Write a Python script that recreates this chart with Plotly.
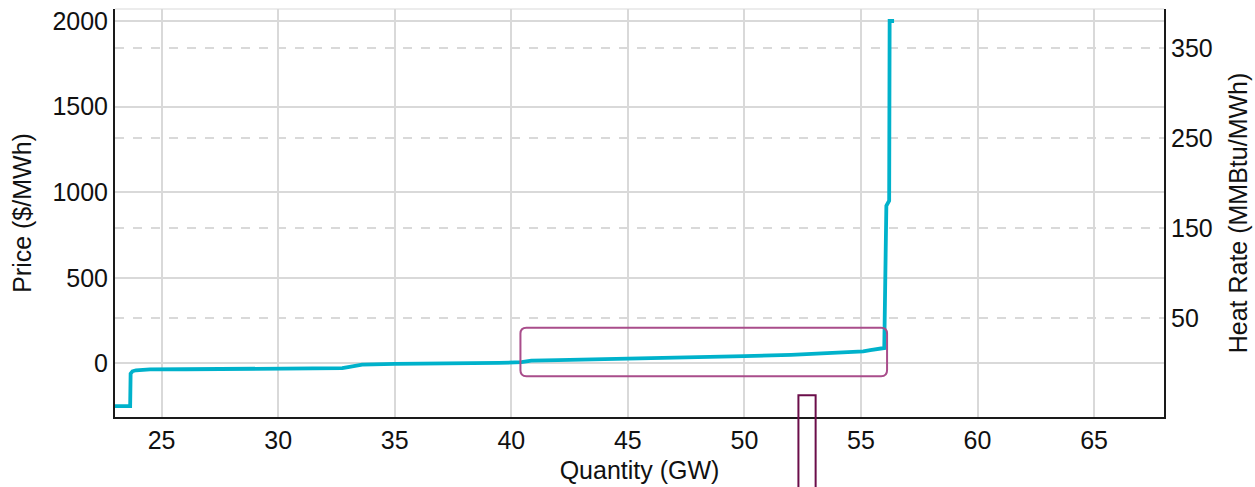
import plotly.graph_objects as go

# Supply curve data
quantity_gw = [23.0, 23.65, 23.67, 23.75, 23.9, 24.1, 24.5, 26.0, 28.0, 30.0, 32.0, 32.75,
               33.0, 33.6, 35.0, 37.0, 39.45, 40.44, 40.86, 42.0, 45.0, 48.0, 50.0, 52.0,
               53.27, 54.7, 55.1, 55.4, 55.7, 55.9, 56.0, 56.09, 56.21, 56.23, 56.42]
price_usd_mwh = [-250, -250, -60, -46, -40, -37, -35, -34, -33, -31, -30, -28,
                 -22, -7, -3, -2, 3, 7, 16, 19, 26, 34, 42, 50,
                 56, 64, 70, 78, 84, 87, 90, 921, 950, 2000, 2000]

x_ticks = [25, 30, 35, 40, 45, 50, 55, 60, 65]
price_ticks = [0, 500, 1000, 1500, 2000]
heat_rate_ticks = [50, 150, 250, 350]

x_range = [23.0, 68.0]
price_range = [-313, 2070]
gas_price = 5.267  # $/MMBtu linking the two axes
heat_rate_range = [price_range[0] / gas_price, price_range[1] / gas_price]

FONT = "Liberation Sans, Arial, sans-serif"
GRID = "#d9d9d9"
FS = 25

fig = go.Figure()
fig.add_trace(go.Scatter(
    x=quantity_gw, y=price_usd_mwh, mode="lines",
    line=dict(color="#00b2cb", width=3.8),
    showlegend=False, hoverinfo="x+y",
))
# empty trace so the secondary axis is laid out
fig.add_trace(go.Scatter(x=[quantity_gw[0]], y=[None], yaxis="y2",
                         mode="lines", showlegend=False, hoverinfo="skip"))

fig.update_layout(
    width=1255, height=487,
    margin=dict(l=115, r=87, t=7, b=69),
    paper_bgcolor="white", plot_bgcolor="white",
    font=dict(family=FONT, size=FS, color="#111111"),
    xaxis=dict(
        range=x_range, tickvals=x_ticks, showgrid=True, gridcolor=GRID, gridwidth=1.5,
        zeroline=False, showline=True, linecolor="#1a1a1a", linewidth=2,
        ticks="", title=dict(text="Quantity (GW)", standoff=8, font=dict(size=FS)),
        tickfont=dict(size=FS),
    ),
    yaxis=dict(
        range=price_range, tickvals=price_ticks, showgrid=True, gridcolor=GRID, gridwidth=1.5,
        zeroline=False, showline=True, linecolor="#1a1a1a", linewidth=2,
        ticks="", title=dict(text="Price ($/MWh)", standoff=14, font=dict(size=FS)),
        tickfont=dict(size=FS),
    ),
    yaxis2=dict(
        range=heat_rate_range, tickvals=heat_rate_ticks, overlaying="y", side="right",
        showgrid=True, gridcolor=GRID, gridwidth=1.5, griddash="dash",
        zeroline=False, showline=True, linecolor="#1a1a1a", linewidth=2,
        ticks="", title=dict(text="Heat Rate (MMBtu/MWh)", standoff=18, font=dict(size=FS)),
        tickfont=dict(size=FS),
    ),
)

# light top border
fig.add_shape(type="line", xref="paper", yref="paper", x0=0, x1=1, y0=1, y1=1,
              line=dict(color="#e6e6e6", width=1.5), layer="below")


def rounded_rect(x0, y0, x1, y1, rx, ry):
    return (f"M {x0+rx},{y0} L {x1-rx},{y0} Q {x1},{y0} {x1},{y0+ry} "
            f"L {x1},{y1-ry} Q {x1},{y1} {x1-rx},{y1} "
            f"L {x0+rx},{y1} Q {x0},{y1} {x0},{y1-ry} "
            f"L {x0},{y0+ry} Q {x0},{y0} {x0+rx},{y0} Z")


fig.add_shape(type="path", xref="paper", yref="paper",
              path=rounded_rect(0.3865, 0.0998, 0.736, 0.219, 0.0057, 0.0146),
              line=dict(color="#a94d8b", width=2))
fig.add_shape(type="rect", xref="paper", yref="paper",
              x0=0.6515, x1=0.6679, y0=-0.3, y1=0.0535,
              line=dict(color="#6b0e4a", width=2))

fig.write_html(
    "out.html",
    config={"displayModeBar": False},
    post_script="document.body.style.margin='0';document.body.style.overflow='hidden';",
)
